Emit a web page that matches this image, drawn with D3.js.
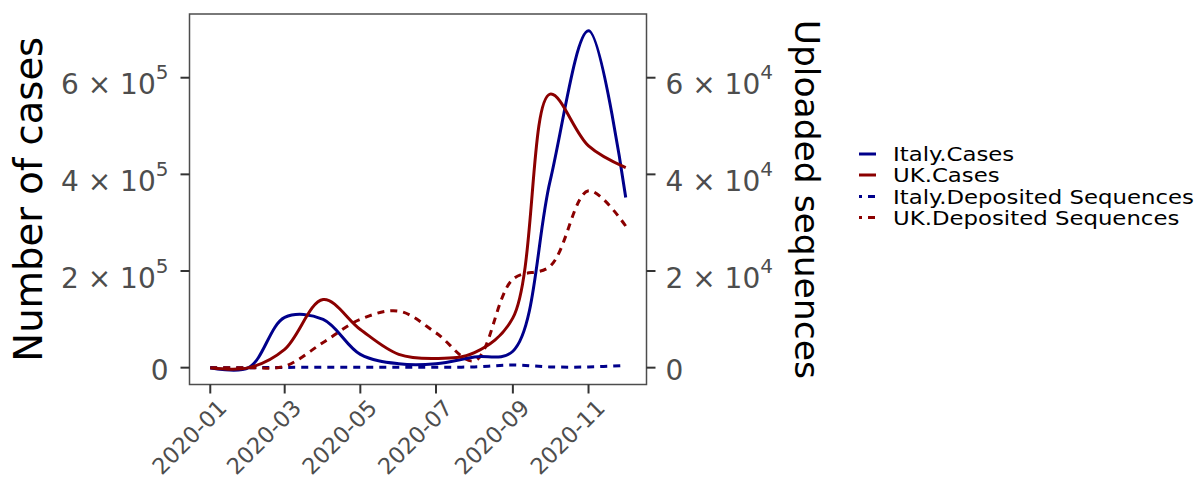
<!DOCTYPE html>
<html><head><meta charset="utf-8">
<script src="https://cdn.jsdelivr.net/npm/d3@7"></script>
<style>body{margin:0;background:#fff} text{font-family:"DejaVu Sans",sans-serif}</style>
</head><body><svg id="c" width="1201" height="485"></svg>
<script>
const months = ["2020-01-01","2020-02-01","2020-03-01","2020-04-01","2020-05-01","2020-06-01","2020-07-01","2020-08-01","2020-09-01","2020-10-01","2020-11-01","2020-12-01"];
const italyCases = [0,0,104000,100000,27600,8000,8000,22000,34000,386000,697000,352000];
const ukCases = [0,0,38000,141000,79000,27600,19000,31000,103000,566000,459000,414000];
const italySeqs = [0,0,50,100,100,100,100,150,550,150,150,450];
const ukSeqs = [0,0,300,5200,10000,11700,7200,1400,18300,21000,36600,29300];
const yTicks = [0,200000,400000,600000];
const y2Ticks = [0,20000,40000,60000];
const xTickLabels = ["2020-01","2020-03","2020-05","2020-07","2020-09","2020-11"];
const seriesNames = ["Italy.Cases","UK.Cases","Italy.Deposited Sequences","UK.Deposited Sequences"];
const seriesColors = ["#00008B","#8B0000","#00008B","#8B0000"];

const svg = d3.select("#c");
const L = 189.5, R = 646.5, T = 14, B = 384.5;
const parse = d3.timeParse("%Y-%m-%d");
const dates = months.map(parse);
const ratio = 10;

const xr = d3.extent(dates);
const span = xr[1] - xr[0];
const x = d3.scaleTime().domain([new Date(+xr[0] - span*0.05), new Date(+xr[1] + span*0.05)]).range([L, R]);
const allY = italyCases.concat(ukCases, italySeqs.map(v=>v*ratio), ukSeqs.map(v=>v*ratio));
const ymin = d3.min(allY), ymax = d3.max(allY), ys = ymax - ymin;
const y = d3.scaleLinear().domain([ymin - ys*0.05, ymax + ys*0.05]).range([B, T]);
const y2 = d3.scaleLinear().domain(y.domain().map(v=>v/ratio)).range([B, T]);

const line = d3.line().x(d=>x(d[0])).y(d=>d[1]).curve(d3.curveCatmullRom.alpha(0.5));
const series = [
  {vals: italyCases, sc: y, dash: null},
  {vals: ukCases, sc: y, dash: null},
  {vals: italySeqs, sc: y2, dash: "7 6"},
  {vals: ukSeqs, sc: y2, dash: "7 6"}
];
const plot = svg.append("g");
plot.append("clipPath").attr("id","clip").append("rect").attr("x",L).attr("y",T).attr("width",R-L).attr("height",B-T);
const lg = plot.append("g").attr("clip-path","url(#clip)");
[2,3,0,1].forEach(i=>{
  const s = series[i];
  lg.append("path")
    .attr("d", line(dates.map((d,j)=>[d, s.sc(s.vals[j])])))
    .attr("fill","none").attr("stroke",seriesColors[i]).attr("stroke-width",3)
    .attr("stroke-dasharray", s.dash).attr("stroke-linejoin","round");
});

svg.append("rect").attr("x",L).attr("y",T).attr("width",R-L).attr("height",B-T)
  .attr("fill","none").attr("stroke","#4d4d4d").attr("stroke-width",1.5);

function sciLabel(sel, v, base){
  sel.each(function(d){
    const t = d3.select(this);
    if (d === 0) { t.append("tspan").text("0"); t.attr("dy", 12); return; }
    const m = d / Math.pow(10, base);
    t.attr("dy", 16.5);
    t.append("tspan").text(m + " \u00d7 10");
    t.append("tspan").attr("font-size", 20).attr("dy", -15).text(base);
  });
}
const gl = svg.append("g").attr("transform",`translate(${L},0)`);
gl.selectAll("line").data(yTicks).join("line")
  .attr("x1",-9).attr("x2",0).attr("y1",d=>y(d)).attr("y2",d=>y(d))
  .attr("stroke","#333").attr("stroke-width",2);
gl.selectAll("text").data(yTicks).join("text")
  .attr("x",-21).attr("y",d=>y(d)).attr("text-anchor","end")
  .attr("font-size",28).attr("fill","#4d4d4d").call(sciLabel, null, 5);
const gr = svg.append("g").attr("transform",`translate(${R},0)`);
gr.selectAll("line").data(y2Ticks).join("line")
  .attr("x1",0).attr("x2",9).attr("y1",d=>y2(d)).attr("y2",d=>y2(d))
  .attr("stroke","#333").attr("stroke-width",2);
gr.selectAll("text").data(y2Ticks).join("text")
  .attr("x",19).attr("y",d=>y2(d)).attr("text-anchor","start")
  .attr("font-size",28).attr("fill","#4d4d4d").call(sciLabel, null, 4);
const xTickDates = xTickLabels.map(s=>parse(s+"-01"));
const gx = svg.append("g").attr("transform",`translate(0,${B})`);
gx.selectAll("line").data(xTickDates).join("line")
  .attr("x1",d=>x(d)).attr("x2",d=>x(d)).attr("y1",0).attr("y2",9)
  .attr("stroke","#333").attr("stroke-width",2);
gx.selectAll("text").data(xTickDates).join("text")
  .attr("transform",d=>`translate(${x(d)+6},${13}) rotate(-45)`)
  .attr("text-anchor","end").attr("dy","0.75em")
  .attr("font-size",22.5).attr("fill","#4d4d4d")
  .text((d,i)=>xTickLabels[i]);

const cy = (T+B)/2;
svg.append("text").attr("transform",`translate(42,${cy}) rotate(-90)`)
  .attr("text-anchor","middle").attr("font-size",38.5).attr("fill","#000").text("Number of cases");
svg.append("text").attr("transform",`translate(795,${cy}) rotate(90)`)
  .attr("text-anchor","middle").attr("font-size",34.5).attr("fill","#000").text("Uploaded sequences");

const leg = svg.append("g");
const rowsY = [154, 175, 196.5, 217.5];
seriesNames.forEach((n,i)=>{
  leg.append("line").attr("x1",859).attr("x2",876).attr("y1",rowsY[i]).attr("y2",rowsY[i])
    .attr("stroke",seriesColors[i]).attr("stroke-width",3)
    .attr("stroke-dasharray", i>=2 ? "7 6" : null).attr("stroke-dashoffset", i>=2 ? 4 : null);
  const t = leg.append("text").attr("x",893).attr("y",rowsY[i]).attr("dy","0.36em")
    .attr("font-size",19.5).attr("fill","#000").text(n);
  const w = t.node().getComputedTextLength();
  t.attr("textLength", w*1.17).attr("lengthAdjust","spacingAndGlyphs");
});
</script></body></html>
